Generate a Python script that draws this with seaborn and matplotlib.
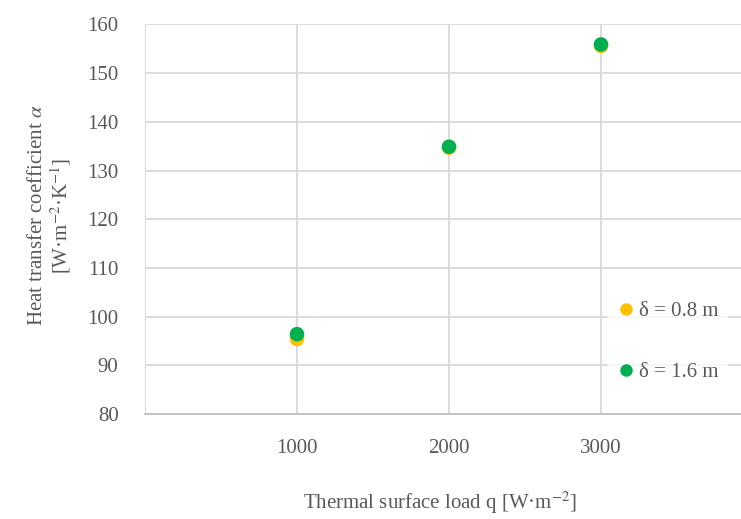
import seaborn as sns
import pandas as pd
import matplotlib.pyplot as plt

# data
q_load = [1000, 2000, 3000]
alpha_08 = [95.4, 134.7, 155.6]
alpha_16 = [96.4, 134.9, 155.9]
series_names = ["δ = 0.8 m", "δ = 1.6 m"]
series_colors = ["#FFC000", "#00B050"]

df = pd.DataFrame({
    "q": q_load * 2,
    "alpha": alpha_08 + alpha_16,
    "series": [series_names[0]] * 3 + [series_names[1]] * 3,
})

sns.set_style("white")
plt.rcParams['font.family'] = ['Liberation Serif', 'DejaVu Serif']
plt.rcParams['mathtext.fontset'] = 'stix'
txt = "#595959"
grid = "#D9D9D9"
fs = 15

fig = plt.figure(figsize=(7.41, 5.19), dpi=100)
ax = fig.add_axes([0.1957, 0.2023, 0.8205, 0.7505])

sns.scatterplot(data=df, x="q", y="alpha", hue="series",
                palette=dict(zip(series_names, series_colors)),
                s=110, linewidth=0, ax=ax, legend=False, zorder=3)

ax.set_xlim(0, 4000)
ax.set_ylim(80, 160)
ax.set_xticks([1000, 2000, 3000, 4000])
ax.set_xticklabels(["1000", "2000", "3000", ""])
ax.set_yticks(range(80, 161, 10))
ax.grid(True, color=grid, linewidth=1.3)
ax.set_axisbelow(True)
for side in ["top", "right"]:
    ax.spines[side].set_visible(False)
ax.spines["left"].set_color(grid)
ax.spines["bottom"].set_color("#BFBFBF")
ax.spines["bottom"].set_linewidth(1.3)
ax.tick_params(length=0, labelsize=fs, colors=txt)
ax.tick_params(axis="y", pad=19)
ax.tick_params(axis="x", pad=18)

ax.set_xlabel("Thermal surface load q [W·m$^{-2}$]", fontsize=fs, color=txt)
ax.xaxis.set_label_coords(0.485, -0.195)
ax.set_ylabel("Heat transfer coefficient $\\it{\\alpha}$\n[W·m$^{-2}$·K$^{-1}$]",
              fontsize=fs, color=txt, linespacing=1.1)
ax.yaxis.set_label_coords(-0.118, 0.51)

handles = [plt.Line2D([], [], marker="o", linestyle="", markersize=9,
                      markerfacecolor=c, markeredgewidth=0) for c in series_colors]
leg = fig.legend(handles, series_names, loc="center left",
                 bbox_to_anchor=(608 / 741, 1 - 342 / 519),
                 frameon=True, fontsize=fs, labelspacing=2.0,
                 handletextpad=0.2, handlelength=0.9, borderpad=0.4,
                 borderaxespad=0)
leg.get_frame().set_facecolor("white")
leg.get_frame().set_edgecolor("white")
leg.get_frame().set_boxstyle("square", pad=0)
for t in leg.get_texts():
    t.set_color(txt)

fig.savefig("out.png", dpi=100)
